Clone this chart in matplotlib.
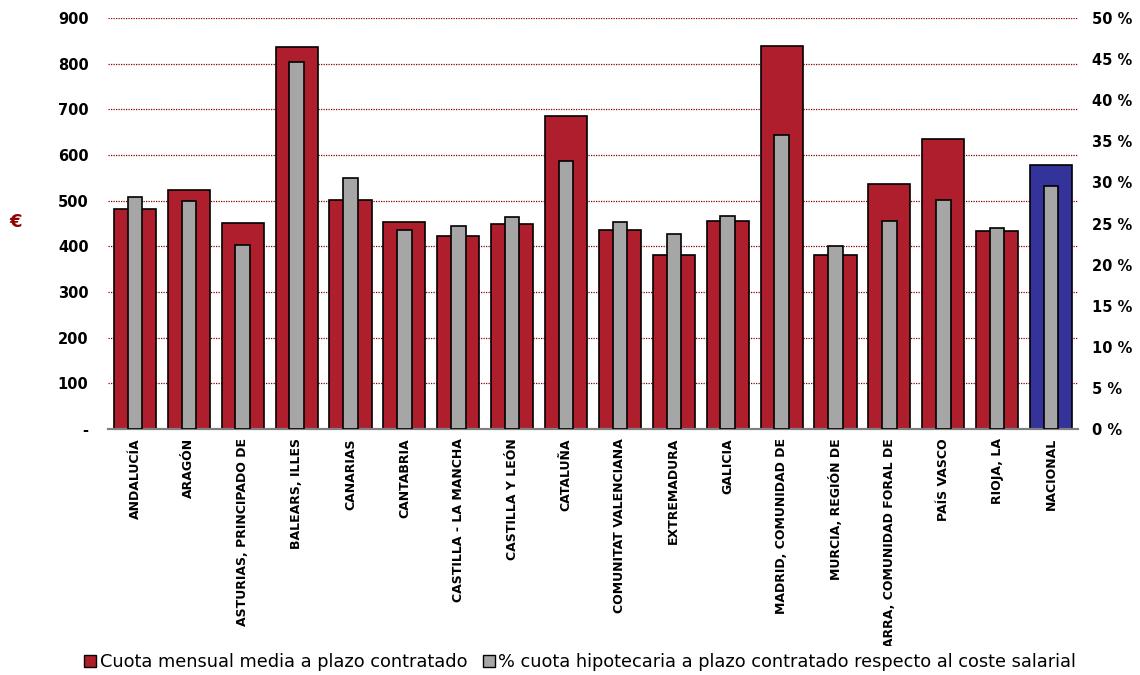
#!/usr/bin/env python3
import matplotlib
matplotlib.use('Agg')
import matplotlib.pyplot as plt
from matplotlib.patches import Patch
from matplotlib.transforms import Bbox
import numpy as np

regiones = ['ANDALUCÍA', 'ARAGÓN', 'ASTURIAS, PRINCIPADO DE', 'BALEARS, ILLES',
            'CANARIAS', 'CANTABRIA', 'CASTILLA - LA MANCHA', 'CASTILLA Y LEÓN',
            'CATALUÑA', 'COMUNITAT VALENCIANA', 'EXTREMADURA', 'GALICIA',
            'MADRID, COMUNIDAD DE', 'MURCIA, REGIÓN DE', 'NAVARRA, COMUNIDAD FORAL DE',
            'PAÍS VASCO', 'RIOJA, LA', 'NACIONAL']
cuota = [481, 524, 452, 836, 501, 454, 423, 450, 685, 435, 380, 456,
         839, 380, 536, 636, 433, 578]
pct_salario = [28.2, 27.7, 22.4, 44.6, 30.5, 24.2, 24.7, 25.8, 32.6, 25.2, 23.7, 25.9,
               35.8, 22.3, 25.3, 27.9, 24.4, 29.6]
eur_ticks = [0, 100, 200, 300, 400, 500, 600, 700, 800, 900]
pct_ticks = [0, 5, 10, 15, 20, 25, 30, 35, 40, 45, 50]

ROJO = '#AE1E2D'
AZUL = '#333399'
GRIS = '#A6A6A6'
W, H = 1140, 675

fig = plt.figure(figsize=(W / 100, H / 100), dpi=100)
ax = fig.add_axes([108 / W, 1 - 429 / H, 970 / W, 411 / H])
ax2 = ax.twinx()

x = np.arange(len(regiones))
colores = [AZUL if r == 'NACIONAL' else ROJO for r in regiones]
ax.bar(x, cuota, width=0.78, color=colores, edgecolor='black', linewidth=1.2, zorder=2)
ax2.bar(x, pct_salario, width=0.27, color=GRIS, edgecolor='black', linewidth=1.2, zorder=3)

ax.set_xlim(-0.5, len(regiones) - 0.5)
ax.set_ylim(0, 900)
ax2.set_ylim(0, 50)
ax.set_yticks(eur_ticks)
ax.set_yticklabels(['-' if v == 0 else str(v) for v in eur_ticks])
ax2.set_yticks(pct_ticks)
ax2.set_yticklabels([f'{v} %' for v in pct_ticks])
ax.set_xticks([])

for a in (ax, ax2):
    for s in ('top', 'right', 'left'):
        a.spines[s].set_visible(False)
    a.spines['bottom'].set_color('#808080')
    a.spines['bottom'].set_linewidth(1.5)
ax.tick_params(axis='y', length=0, pad=14, labelsize=10.5)
ax2.tick_params(axis='y', length=0, pad=10, labelsize=10.5)
for lab in ax.get_yticklabels() + ax2.get_yticklabels():
    lab.set_fontweight('bold')

# dotted gridlines
ax.yaxis.grid(True, linestyle=(0, (1, 1)), color='#8B0000', linewidth=0.9, zorder=0)
ax.set_axisbelow(True)

# rotated category labels, clipped at the bottom like the original
clip = Bbox.from_extents(0, H - 646, W, H)
for i, r in enumerate(regiones):
    t = ax.text(i, -0.022, r, transform=ax.get_xaxis_transform(), rotation=90,
                ha='center', va='top', fontsize=9, fontweight='bold',
                family='DejaVu Sans')
    t.set_clip_on(True)
    t.set_clip_box(clip)

fig.text(16 / W, 1 - 222 / H, '€', color='#8B0000', fontsize=13, fontweight='bold',
         ha='center', va='center')

handles = [Patch(facecolor=ROJO, edgecolor='black', linewidth=1),
           Patch(facecolor=GRIS, edgecolor='black', linewidth=1)]
fig.legend(handles, ['Cuota mensual media a plazo contratado',
                     '% cuota hipotecaria a plazo contratado respecto al coste salarial'],
           loc='center', bbox_to_anchor=(0.509, 1 - 662 / H), ncol=2, frameon=False,
           fontsize=12.8, handlelength=0.65, handleheight=0.65, handletextpad=0.2,
           columnspacing=0.9)

plt.savefig('out.png', dpi=100)
